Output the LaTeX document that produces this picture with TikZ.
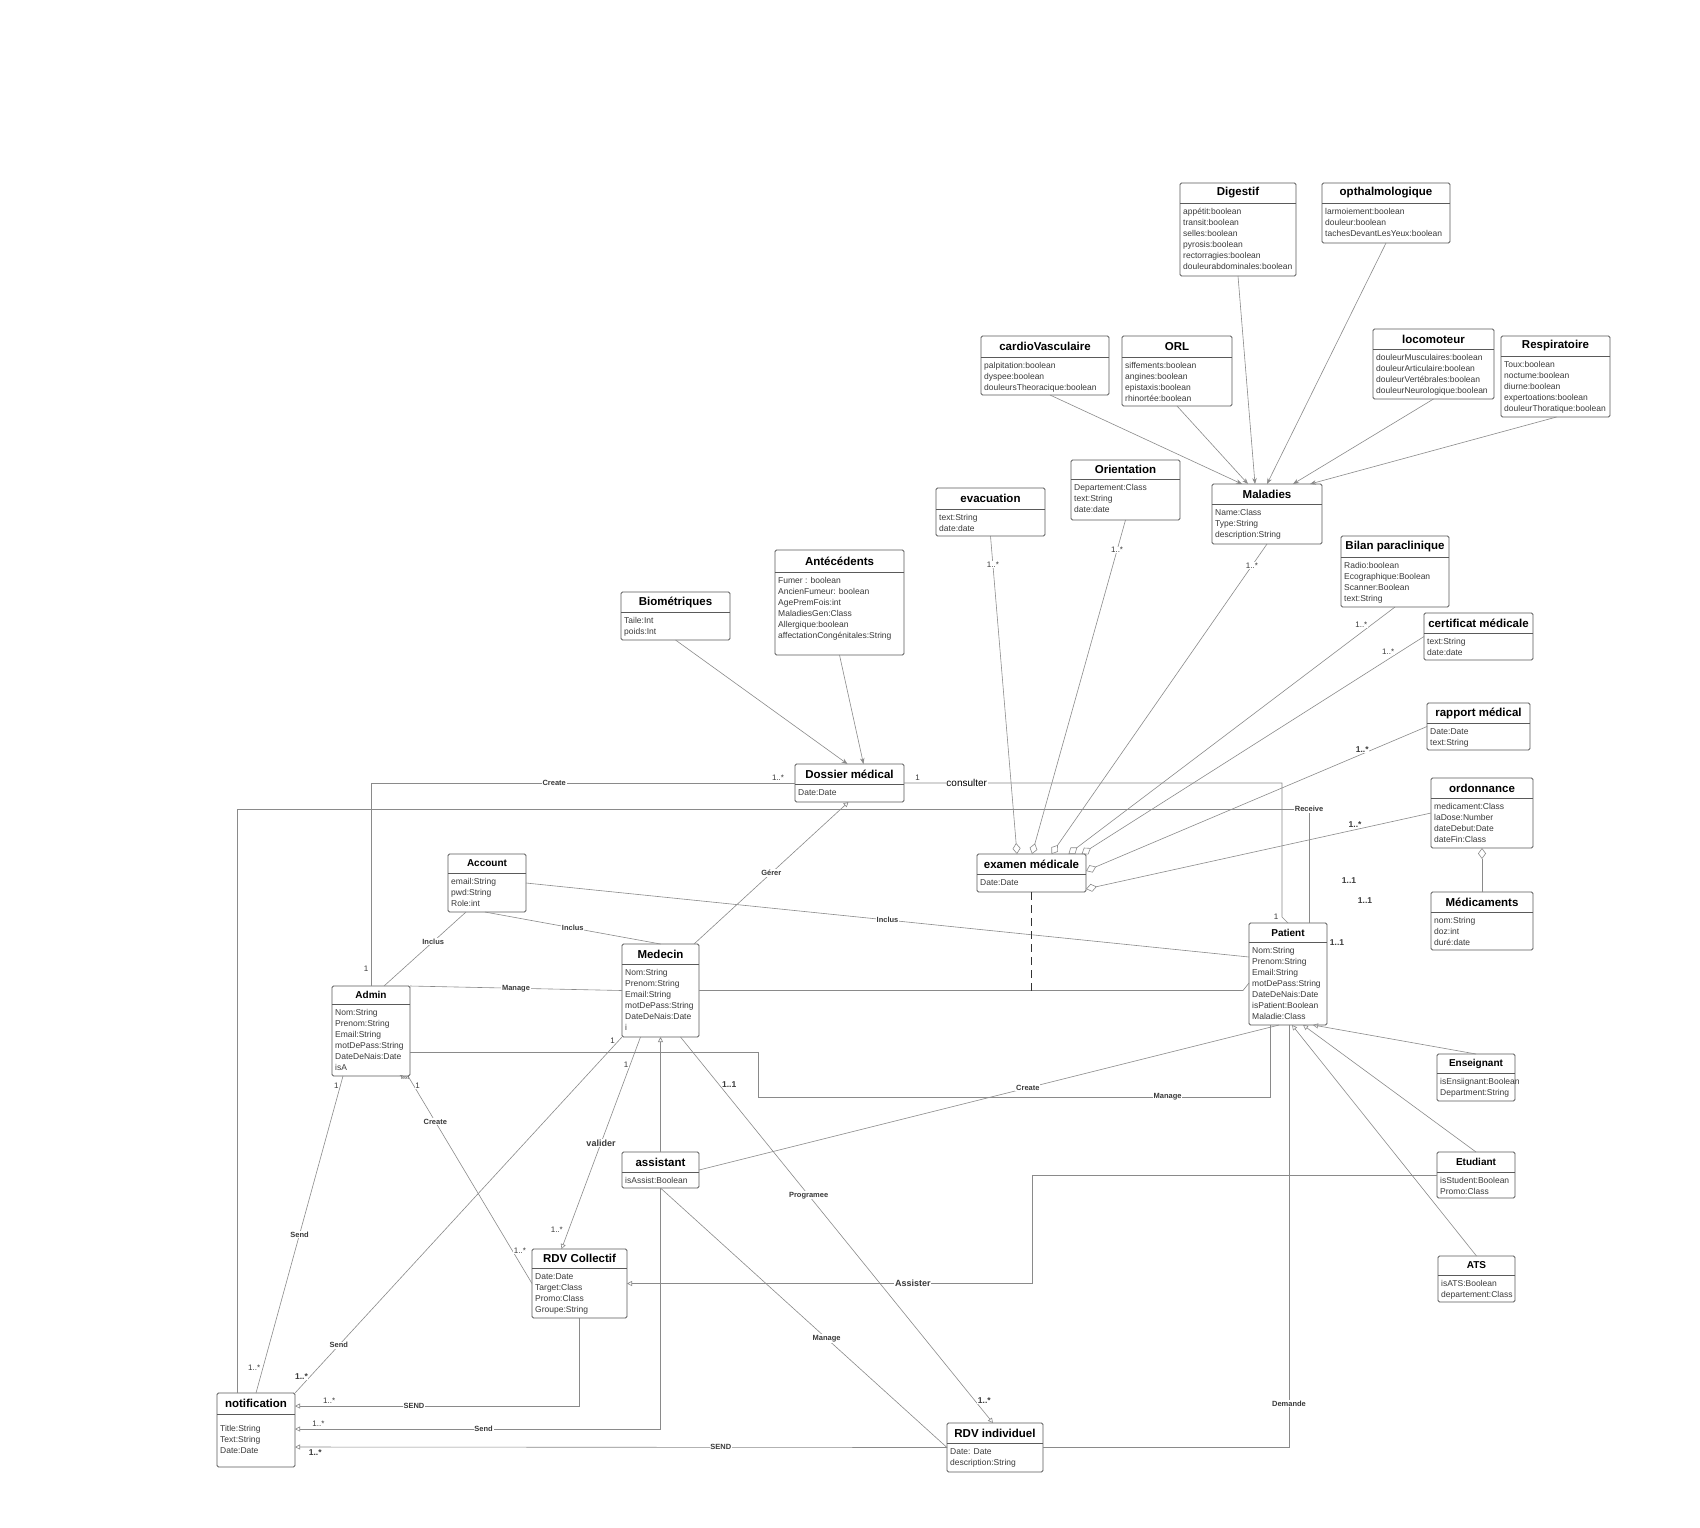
\documentclass[tikz,border=0pt]{standalone}
\usepackage{fontspec}
\setmainfont{Liberation Sans}
\usetikzlibrary{arrows.meta}

\definecolor{linegray}{HTML}{8A8A8A}
\definecolor{boxgray}{HTML}{5A5A5A}
\definecolor{txtgray}{HTML}{3A3A3A}

\tikzset{
	clsbox/.style={draw=boxgray, line width=0.8pt, rounded corners=1.5pt, fill=white, anchor=north west, inner sep=0pt, outer sep=0pt},
	sepline/.style={draw=boxgray, line width=0.8pt},
	ttl/.style={font=\fontsize{11.5}{13}\selectfont\bfseries, inner sep=0pt},
	sttl/.style={font=\fontsize{10}{12}\selectfont\bfseries, inner sep=0pt},
	attr/.style={anchor=north west, align=left, font=\fontsize{8.5}{11}\selectfont, text=txtgray, inner xsep=3pt, inner ysep=5pt},
	conn/.style={draw=linegray, line width=0.6pt},
	lbl/.style={fill=white, inner sep=0.8pt, font=\fontsize{7.5}{8}\selectfont\bfseries, text=txtgray},
	blbl/.style={lbl, font=\fontsize{9}{10}\selectfont\bfseries},
	mult/.style={fill=white, inner sep=0.5pt, font=\fontsize{8}{9}\selectfont, text=txtgray},
	bmult/.style={mult, font=\fontsize{8.5}{9}\selectfont\bfseries},
	gen/.style={conn, -{Triangle[open, length=5pt, width=5pt]}},
	agg/.style={conn, -{Diamond[open, length=11pt, width=8pt]}},
	spec/.style={conn, -{Stealth[length=6pt, width=4.5pt]}},
}

% #1 title style, #2 name, #3 top left, #4 width, #5 height, #6 title band, #7 title, #8 attributes
\newcommand{\umlclass}[8][ttl]{%
	\node[clsbox, minimum width=#4, minimum height=#5] (#2) at (#3) {};
	\draw[sepline] ([yshift=-#6]#2.north west) -- ([yshift=-#6]#2.north east);
	\node[#1] (#2-t) at ([yshift=-#6/2]#2.north) {#7};
	\node[attr] (#2-a) at ([yshift=-#6]#2.north west) {#8};
}

\begin{document}
\begin{tikzpicture}[x=1pt, y=-1pt]
	\fill[white] (0,0) rectangle (1700,1527);
	\useasboundingbox (0,0) rectangle (1700,1527);

	\umlclass{dig}{1180,183}{116}{93}{20}{Digestif}{appétit:boolean\\transit:boolean\\selles:boolean\\pyrosis:boolean\\rectorragies:boolean\\douleurabdominales:boolean}
	\umlclass{oph}{1322,183}{128}{60}{20}{opthalmologique}{larmoiement:boolean\\douleur:boolean\\tachesDevantLesYeux:boolean}
	\umlclass{cv}{981,336}{128}{59}{21}{cardioVasculaire}{palpitation:boolean\\dyspee:boolean\\douleursTheoracique:boolean}
	\umlclass{orl}{1122,336}{110}{70}{21}{ORL}{siffements:boolean\\angines:boolean\\epistaxis:boolean\\rhinortée:boolean}
	\umlclass{loc}{1373,329}{121}{70}{20}{locomoteur}{douleurMusculaires:boolean\\douleurArticulaire:boolean\\douleurVertébrales:boolean\\douleurNeurologique:boolean}
	\umlclass{resp}{1501,336}{109}{81}{20}{Respiratoire}{Toux:boolean\\noctume:boolean\\diurne:boolean\\expertoations:boolean\\douleurThoratique:boolean}
	\umlclass{mal}{1212,484}{110}{60}{20}{Maladies}{Name:Class\\Type:String\\description:String}
	\umlclass{ori}{1071,460}{109}{60}{19}{Orientation}{Departement:Class\\text:String\\date:date}
	\umlclass{eva}{936,488}{109}{48}{21}{evacuation}{text:String\\date:date}
	\umlclass{ant}{775,550}{129}{105}{22}{Antécédents}{Fumer : boolean\\AncienFumeur: boolean\\AgePremFois:int\\MaladiesGen:Class\\Allergique:boolean\\affectationCongénitales:String}
	\umlclass{bio}{621,592}{109}{48}{20}{Biométriques}{Taile:Int\\poids:Int}
	\umlclass{bil}{1341,536}{108}{71}{21}{Bilan paraclinique}{Radio:boolean\\Ecographique:Boolean\\Scanner:Boolean\\text:String}
	\umlclass{cer}{1424,613}{109}{47}{20}{certificat médicale}{text:String\\date:date}
	\umlclass{rap}{1427,703}{103}{47}{20}{rapport médical}{Date:Date\\text:String}
	\umlclass{ord}{1431,778}{102}{70}{20}{ordonnance}{medicament:Class\\laDose:Number\\dateDebut:Date\\dateFin:Class}
	\umlclass{mdc}{1431,892}{102}{58}{20}{Médicaments}{nom:String\\doz:int\\duré:date}
	\umlclass{dos}{795,764}{109}{38}{20}{Dossier médical}{Date:Date}
	\umlclass{exa}{977,854}{109}{38}{20}{examen médicale}{Date:Date}
	\umlclass[sttl]{acc}{448,854}{78}{58}{19}{Account}{email:String\\pwd:String\\Role:int}
	\umlclass{med}{622,944}{77}{93}{20}{Medecin}{Nom:String\\Prenom:String\\Email:String\\motDePass:String\\DateDeNais:Date\\i}
	\umlclass[sttl]{adm}{332,986}{78}{90}{18}{Admin}{Nom:String\\Prenom:String\\Email:String\\motDePass:String\\DateDeNais:Date\\isA}
	\umlclass[sttl]{pat}{1249,923}{78}{102}{19}{Patient}{Nom:String\\Prenom:String\\Email:String\\motDePass:String\\DateDeNais:Date\\isPatient:Boolean\\Maladie:Class}
	\umlclass[sttl]{ens}{1437,1054}{78}{47}{19}{Enseignant}{isEnsiignant:Boolean\\Department:String}
	\umlclass[sttl]{etu}{1437,1152}{78}{46}{20}{Etudiant}{isStudent:Boolean\\Promo:Class}
	\umlclass[sttl]{ats}{1438,1256}{77}{46}{19}{ATS}{isATS:Boolean\\departement:Class}
	\umlclass{ass}{622,1152}{77}{36}{20}{assistant}{isAssist:Boolean}
	\umlclass{rdvc}{532,1249}{95}{69}{19}{RDV Collectif}{Date:Date\\Target:Class\\Promo:Class\\Groupe:String}
	\umlclass{notif}{217,1393}{78}{74}{21}{notification}{\rule{0pt}{12pt}Title:String\\Text:String\\Date:Date}
	\umlclass{rdvi}{947,1423}{96}{49}{20}{RDV individuel}{Date: Date\\description:String}

	% maladies
	\draw[spec] ([xshift=5]cv.south) -- ([xshift=-25]mal.north);
	\draw[spec] (orl.south) -- ([xshift=-19]mal.north);
	\draw[spec] (dig.south) -- ([xshift=-12]mal.north);
	\draw[spec] (oph.south) -- (mal.north);
	\draw[spec] (loc.south) -- ([xshift=26]mal.north);
	\draw[spec] ([xshift=1]resp.south) -- ([xshift=43]mal.north);
	\draw[spec] (bio.south) -- ([xshift=-2]dos.north);
	\draw[spec] (ant.south) -- ([xshift=14]dos.north);

	% examen medicale
	\draw[agg] (eva.south) -- node[mult, pos=0.09] {1..*} ([xshift=-14.5]exa.north);
	\draw[agg] (ori.south) -- node[mult, pos=0.09] {1..*} ([xshift=0.5]exa.north);
	\draw[agg] (mal.south) -- node[mult, pos=0.07] {1..*} ([xshift=20]exa.north);
	\draw[agg] (bil.south) -- node[mult, pos=0.07, left=4pt] {1..*} ([xshift=37]exa.north);
	\draw[agg] (cer.west) -- node[mult, pos=0.07, left=5pt] {1..*} ([xshift=50]exa.north);
	\draw[agg] (rap.west) -- node[bmult, pos=0.19, above=1pt] {1..*} ([yshift=2]exa.east);
	\draw[agg] (ord.west) -- node[bmult, pos=0.22, above=1pt] {1..*} ([yshift=-16]exa.east);
	\draw[agg] (mdc.north) -- (ord.south);

	% dossier medical
	\draw[conn] (dos.west) -| node[lbl, pos=0.284] {Create} node[mult, pos=0.02, above=2pt] {1..*} node[mult, pos=0.958, left=2pt] {1} (adm.north);
	\draw[conn] (dos.east) -| node[mult, pos=0.018, above=2pt] {1} node[pos=0.083, fill=white, inner sep=0.5pt, font=\fontsize{10}{11}\selectfont] {consulter} ([xshift=-6, yshift=6]pat.north) -- node[mult, pos=0, left=3pt] {1} (pat.north);
	\draw[conn] ([xshift=-19]notif.north) -- ++(0,-584) -| node[lbl, pos=0.5] {Receive} ([xshift=21]pat.north);
	\draw[gen] ([xshift=-5]med.north east) -- node[lbl, pos=0.5] {Gérer} ([xshift=-1]dos.south);

	% account
	\draw[conn] ([xshift=-21]acc.south) -- node[lbl, pos=0.4] {Inclus} ([xshift=13]adm.north);
	\draw[conn] ([xshift=-2]acc.south) -- node[lbl, pos=0.5] {Inclus} (med.north);
	\draw[conn] (acc.east) -- node[lbl, pos=0.5] {Inclus} ([yshift=17]pat.west);

	% medecin, admin, patient
	\draw[conn] (adm.north east) -- node[lbl, pos=0.5] {Manage} (med.west);
	\draw[conn] (med.east) -- ([xshift=-6, yshift=-16.5]pat.west) -- ([yshift=-9]pat.west);
	\draw[conn, dashed, dash pattern=on 8pt off 5pt, line width=0.9pt, draw=black!80] (exa.south) -- (exa.south |- med.east);
	\draw[conn] ([yshift=-21]adm.east) -- ++(348,0) -- ++(0,45) -| node[lbl, pos=0.4] {Manage} ([xshift=-18]pat.south);
	\draw[conn] (ass.east) -- node[lbl, pos=0.567] {Create} ([xshift=-9]pat.south);
	\draw[gen] (ats.north) -- ([xshift=4]pat.south);
	\draw[gen] (etu.north) -- ([xshift=15]pat.south);
	\draw[gen] (ens.north) -- ([xshift=25]pat.south);
	\draw[conn] (rdvi.east) -| node[lbl, pos=0.552] {Demande} ([xshift=1]pat.south);
	\node[bmult] (m11a) at (1349,881) {1..1};
	\node[bmult] (m11b) at (1365,901) {1..1};
	\node[bmult] (m11c) at (1337,943) {1..1};

	% rendez-vous
	\draw[gen] (etu.west) -- ++(-405,0) |- node[blbl, pos=0.647] {Assister} (rdvc.east);
	\draw[gen] ([xshift=-20]med.south) -- node[blbl, pos=0.5] {valider} node[mult, pos=0.13, left=1pt] {1} node[mult, pos=0.91, left=5pt] {1..*} ([xshift=-18]rdvc.north);
	\draw[conn] ([xshift=-2]adm.south east) -- node[lbl, pos=0.22] {Create} node[mult, pos=0.045, right=1pt] {1} node[mult, pos=0.84, right=1pt] {1..*} node[pos=0.01, left=0pt, inner sep=0pt, font=\fontsize{5}{5}\selectfont, text=txtgray] {Text} (rdvc.west);
	\draw[gen] ([xshift=20]med.south) -- node[lbl, pos=0.41] {Programee} node[bmult, pos=0.124, right=2pt] {1..1} node[bmult, pos=0.943, right=2pt] {1..*} ([xshift=-2]rdvi.north);
	\draw[conn] (ass.south) -- node[lbl, pos=0.58] {Manage} (rdvi.west);
	\draw[gen] (ass.north) -- (med.south);

	% notification
	\draw[conn] ([xshift=-28]adm.south) -- node[lbl, pos=0.5] {Send} node[mult, pos=0.03, left=1pt] {1} node[mult, pos=0.92, left=2pt] {1..*} (notif.north);
	\draw[conn] (med.south west) -- node[lbl, pos=0.866] {Send} node[mult, pos=0.01, left=3pt] {1} node[bmult, pos=0.955, left=1pt] {1..*} (notif.north east);
	\draw[gen] (rdvc.south) |- node[lbl, pos=0.791] {SEND} node[mult, pos=0.94, above=2pt] {1..*} ([yshift=24]notif.east);
	\draw[gen] (ass.south) |- node[lbl, pos=0.742] {Send} node[mult, pos=0.968, above=2pt] {1..*} ([yshift=1]notif.east);
	\draw[gen] (rdvi.west) -- node[lbl, pos=0.347] {SEND} node[bmult, pos=0.969, below=2pt] {1..*} ([yshift=-17]notif.east);
\end{tikzpicture}
\end{document}
